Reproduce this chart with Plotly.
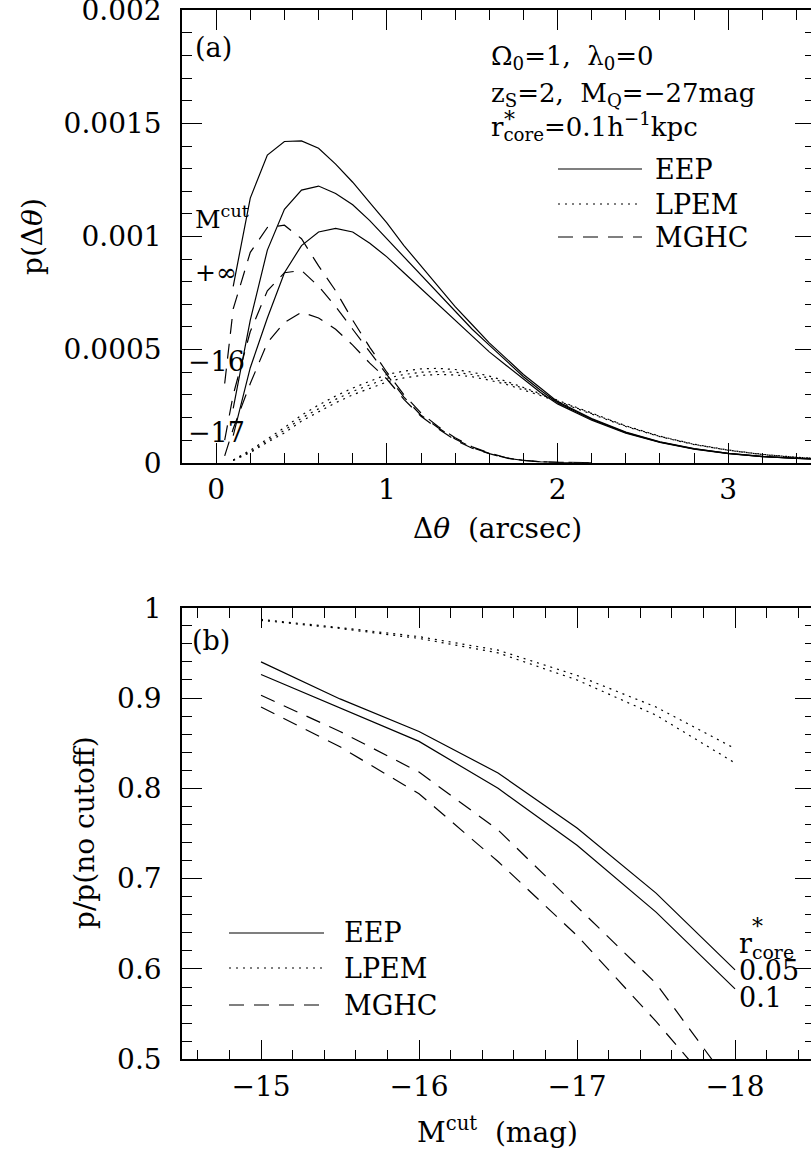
import plotly.graph_objects as go

W, H = 815, 1149

# ---------------- panel (a) data ----------------
theta_a = [0.1, 0.2, 0.3, 0.4, 0.5, 0.6, 0.7, 0.8, 0.9, 1.0, 1.1, 1.2, 1.3, 1.4, 1.5,
           1.6, 1.7, 1.8, 1.9, 2.0, 2.2, 2.4, 2.6, 2.8, 3.0, 3.2, 3.4, 3.6]
eep_inf = [0.00078, 0.00117, 0.00136, 0.00142, 0.001423, 0.00139, 0.00132, 0.00124, 0.00115,
           0.00106, 0.00096, 0.00087, 0.00078, 0.00069, 0.00061, 0.00053, 0.00046, 0.00039,
           0.00033, 0.00027, 0.000195, 0.000135, 0.000092, 0.000062, 0.000041, 0.000028,
           0.000019, 0.000013]
eep_m16 = [0.00024, 0.00063, 0.00094, 0.00112, 0.001205, 0.001223, 0.00119, 0.00114, 0.00107,
           0.00099, 0.00091, 0.00083, 0.00075, 0.00067, 0.00059, 0.00052, 0.00045, 0.00038,
           0.00032, 0.000265, 0.000192, 0.000133, 0.000091, 0.000061, 0.000041, 0.000027,
           0.000019, 0.000013]
eep_m17 = [0.00012, 0.00042, 0.00064, 0.00084, 0.00096, 0.00102, 0.001036, 0.00102, 0.00097,
           0.00091, 0.00084, 0.00077, 0.00070, 0.00063, 0.00056, 0.00049, 0.00043, 0.00037,
           0.00031, 0.00026, 0.000188, 0.00013, 0.00009, 0.00006, 0.00004, 0.000027,
           0.000018, 0.000012]
lpem_inf = [0.000012, 0.000055, 0.000105, 0.000155, 0.00021, 0.000255, 0.000295, 0.00033,
            0.00036, 0.00039, 0.000405, 0.000415, 0.000417, 0.000412, 0.0004, 0.000383,
            0.00036, 0.000334, 0.000305, 0.000276, 0.000218, 0.000163, 0.000117, 0.000082,
            0.000056, 0.000037, 0.000024, 0.000016]
lpem_m16 = [0.000011, 0.00005, 0.000097, 0.000143, 0.000197, 0.00024, 0.00028, 0.000315,
            0.000345, 0.000373, 0.00039, 0.0004, 0.000403, 0.0004, 0.00039, 0.000374,
            0.000353, 0.000329, 0.000301, 0.000273, 0.000216, 0.000162, 0.000116, 0.000081,
            0.000055, 0.000036, 0.000024, 0.000016]
lpem_m17 = [0.00001, 0.000045, 0.00009, 0.000132, 0.000184, 0.000226, 0.000265, 0.0003,
            0.00033, 0.000357, 0.000375, 0.000386, 0.00039, 0.000388, 0.00038, 0.000365,
            0.000346, 0.000323, 0.000297, 0.00027, 0.000214, 0.00016, 0.000115, 0.00008,
            0.000055, 0.000036, 0.000023, 0.000015]

theta_d = [0.05, 0.1, 0.2, 0.3, 0.4, 0.5, 0.6, 0.7, 0.8, 0.9, 1.0, 1.1, 1.2, 1.3, 1.4,
           1.5, 1.6, 1.7, 1.8, 1.9, 2.0, 2.1, 2.2]
mghc_inf = [0.00035, 0.00068, 0.00093, 0.00104, 0.00105, 0.00099, 0.00087, 0.00076, 0.00063,
            0.00051, 0.0004, 0.0003, 0.00022, 0.00016, 0.00011, 0.00007, 0.000043, 0.000022,
            0.00001, 0.000004, 0.0000015, 0.0000005, 0.0]
mghc_m16 = [0.0001, 0.0003, 0.00058, 0.00076, 0.00084, 0.00085, 0.00078, 0.00069, 0.00059,
            0.00049, 0.00039, 0.00029, 0.00021, 0.000155, 0.000105, 0.000067, 0.000041,
            0.000021, 0.00001, 0.000004, 0.0000015, 0.0000005, 0.0]
mghc_m17 = [0.00003, 0.00015, 0.00035, 0.00053, 0.00062, 0.000665, 0.00064, 0.00059, 0.00052,
            0.00044, 0.00037, 0.00028, 0.000205, 0.00015, 0.0001, 0.000064, 0.00004, 0.00002,
            0.00001, 0.000004, 0.0000015, 0.0000005, 0.0]

# ---------------- panel (b) data ----------------
mcut = [-15, -15.5, -16, -16.5, -17, -17.5, -18]
eep_005 = [0.940, 0.899, 0.863, 0.817, 0.756, 0.684, 0.599]
eep_01 = [0.926, 0.889, 0.852, 0.800, 0.737, 0.663, 0.578]
lpem_005 = [0.987, 0.978, 0.968, 0.953, 0.925, 0.890, 0.844]
lpem_01 = [0.986, 0.977, 0.966, 0.950, 0.920, 0.881, 0.828]
mghc_005 = [0.903, 0.863, 0.818, 0.754, 0.669, 0.584, 0.465]
mghc_01 = [0.890, 0.846, 0.794, 0.719, 0.637, 0.542, 0.44]

xticks_a = [0, 1, 2, 3]
yticks_a = [0, 0.0005, 0.001, 0.0015, 0.002]
yticktext_a = ["0", "0.0005", "0.001", "0.0015", "0.002"]
xticks_b = [-15, -16, -17, -18]
xticktext_b = ["\u221215", "\u221216", "\u221217", "\u221218"]
yticks_b = [0.5, 0.6, 0.7, 0.8, 0.9, 1.0]
yticktext_b = ["0.5", "0.6", "0.7", "0.8", "0.9", "1"]

FONT = "DejaVu Serif"
LW = 1.2
DASH = "15px,10px"
DOT = "2px,5px"


def px(x):
    return x / W


def py(y):
    return 1 - y / H


fig = go.Figure()

def add(x, y, dash, xa, ya):
    fig.add_trace(go.Scatter(x=x, y=y, mode="lines", xaxis=xa, yaxis=ya,
                             line=dict(color="black", width=LW, dash=dash),
                             showlegend=False, hoverinfo="skip"))

for ys in (eep_inf, eep_m16, eep_m17):
    add(theta_a, ys, "solid", "x", "y")
for ys in (lpem_inf, lpem_m16, lpem_m17):
    add(theta_a, ys, DOT, "x", "y")
for ys in (mghc_inf, mghc_m16, mghc_m17):
    add(theta_d, ys, DASH, "x", "y")

for ys in (eep_005, eep_01):
    add(mcut, ys, "solid", "x2", "y2")
for ys in (lpem_005, lpem_01):
    add(mcut, ys, DOT, "x2", "y2")
for ys in (mghc_005, mghc_01):
    add(mcut, ys, DASH, "x2", "y2")

common = dict(showline=True, linecolor="black", linewidth=1.6, mirror="ticks",
              ticks="inside", ticklen=20, tickwidth=1.3, tickcolor="black",
              showgrid=False, zeroline=False, automargin=False,
              ticklabeloverflow="allow",
              tickfont=dict(family=FONT, size=28, color="black"),
              minor=dict(ticks="inside", ticklen=10, tickwidth=1.3, tickcolor="black",
                         showgrid=False))

xa_dom = [px(182), 1.0]
fig.update_layout(
    xaxis=dict(domain=xa_dom, range=[-0.2, 3.508], tickvals=xticks_a,
               ticktext=[str(v) for v in xticks_a], anchor="y", ticklabelstandoff=1,
               **common),
    yaxis=dict(domain=[py(462.7), py(10.3)], range=[0, 0.0020001], tickvals=yticks_a,
               ticktext=yticktext_a, anchor="x", ticklabelstandoff=13, **common),
    xaxis2=dict(domain=xa_dom, range=[-14.5, -18.506], tickvals=xticks_b,
                ticktext=xticktext_b, anchor="y2", ticklabelstandoff=1, **common),
    yaxis2=dict(domain=[py(1059.3), py(607.7)], range=[0.5, 1.0], tickvals=yticks_b,
                ticktext=yticktext_b, anchor="x2", ticklabelstandoff=13, **common),
)
fig.layout.xaxis.minor.dtick = 0.2
fig.layout.xaxis.minor.tick0 = 0
fig.layout.yaxis.minor.dtick = 0.0001
fig.layout.yaxis.minor.tick0 = 0
fig.layout.xaxis2.minor.dtick = 0.2
fig.layout.xaxis2.minor.tick0 = -15
fig.layout.yaxis2.minor.dtick = 0.02
fig.layout.yaxis2.minor.tick0 = 0.5

annots = []

def txt(x, y, text, size=27, xanchor="left", angle=0):
    annots.append(dict(x=px(x), y=py(y), xref="paper", yref="paper", text=text,
                       showarrow=False, xanchor=xanchor, yanchor="middle",
                       textangle=angle, font=dict(family=FONT, size=size, color="black")))

# axis titles
txt(32, 237, "p(\u0394<i>\u03b8</i>)", size=28, xanchor="center", angle=-90)
txt(497, 528, "\u0394<i>\u03b8</i>  (arcsec)", size=28, xanchor="center")
txt(84, 833, "p/p(no cutoff)", size=28, xanchor="center", angle=-90)
txt(497, 1130, "M<sup>cut</sup>  (mag)", size=28, xanchor="center")

# panel (a) texts
txt(193, 47, "(a)")
txt(489, 58, "\u03a9<sub>0</sub>=1,  \u03bb<sub>0</sub>=0", size=26)
txt(489, 94, "z<sub>S</sub>=2,  M<sub>Q</sub>=\u221227mag", size=26)
txt(489, 127, "r<sub>core</sub>=0.1h<sup>\u22121</sup>kpc", size=26)
txt(502, 119, "*", size=22)
txt(653, 169, "EEP")
txt(653, 204, "LPEM")
txt(653, 237, "MGHC")
txt(193, 217, "M<sup>cut</sup>", size=25)
txt(193, 273, "+\u221e", size=25)
txt(186, 362, "\u221216", size=27)
txt(186, 432, "\u221217", size=27)

# panel (b) texts
txt(190, 640, "(b)")
txt(342, 933, "EEP")
txt(342, 968, "LPEM")
txt(342, 1005, "MGHC")
txt(737, 945, "r<sub>core</sub>", size=27)
txt(750, 926, "*", size=22)
txt(737, 970, "0.05")
txt(737, 997, "0.1")

shapes = []

def seg(x0, x1, y, dash):
    shapes.append(dict(type="line", xref="paper", yref="paper", x0=px(x0), x1=px(x1),
                       y0=py(y), y1=py(y), line=dict(color="black", width=LW, dash=dash)))

seg(558, 642, 169, "solid")
seg(558, 642, 204, DOT)
seg(558, 642, 237, DASH)
seg(229, 324, 933, "solid")
seg(229, 324, 968, DOT)
seg(229, 324, 1005, DASH)

fig.update_layout(annotations=annots, shapes=shapes, width=W, height=H,
                  margin=dict(l=0, r=0, t=0, b=0), paper_bgcolor="white",
                  plot_bgcolor="white", template="none", showlegend=False)

fig.write_html("out.html", config={"displayModeBar": False},
               post_script="document.body.style.margin='0';document.body.style.overflow='hidden';")
